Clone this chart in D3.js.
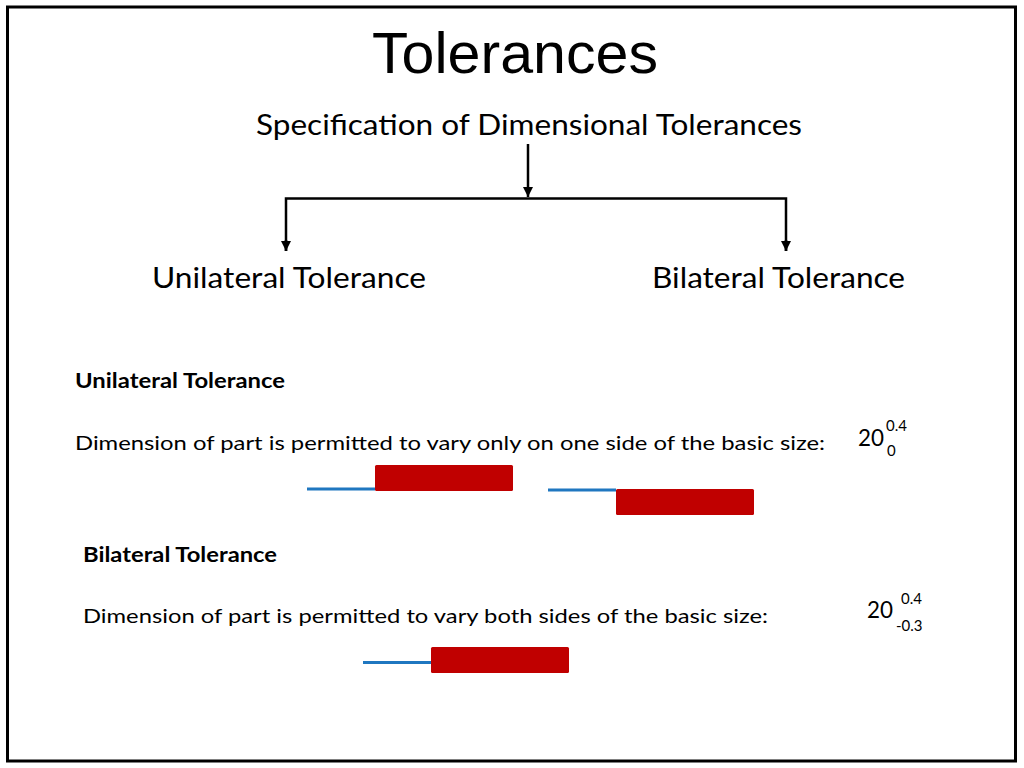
<!DOCTYPE html>
<html>
<head>
<meta charset="utf-8">
<script src="https://cdn.jsdelivr.net/npm/d3@7"></script>
<style>
  body { margin: 0; background: #fff; }
</style>
</head>
<body>
<div id="chart"></div>
<script>
// tree labels
var rootLabel = "Specification of Dimensional Tolerances";
var branchLabels = ["Unilateral Tolerance", "Bilateral Tolerance"];

// sections: heading, sentence, basic size, upper / lower deviation
var sectionTitles = ["Unilateral Tolerance", "Bilateral Tolerance"];
var sectionTexts = [
  "Dimension of part is permitted to vary only on one side of the basic size:",
  "Dimension of part is permitted to vary both sides of the basic size:"
];
var basicSizes = ["20", "20"];
var upperDev = ["0.4", "0.4"];
var lowerDev = ["0", "-0.3"];

// sketch bars: basic length (blue) and tolerance zone (red), in sketch units
var barNames = ["uni-up", "uni-down", "bi"];
var basicLen = [68, 68, 68];
var zoneLen = [138, 138, 138];
var zoneShift = [-1, 1, 0];   // zone above (-1), below (1) or across (0) the line

var svg = d3.select("#chart").append("svg")
  .attr("width", 1024)
  .attr("height", 768);

var sans = "Liberation Sans, Arial, sans-serif";
var body = "Lato, 'Open Sans', sans-serif";

svg.append("rect")
  .attr("x", 7.5).attr("y", 7)
  .attr("width", 1008).attr("height", 754)
  .attr("fill", "none")
  .attr("stroke", "#000")
  .attr("stroke-width", 3);

svg.append("text")
  .text("Tolerances")
  .attr("x", 372).attr("y", 73)
  .attr("textLength", 286).attr("lengthAdjust", "spacingAndGlyphs")
  .style("font-family", sans).style("font-size", 57);

svg.append("defs").append("marker")
  .attr("id", "arr")
  .attr("viewBox", "0 0 10 10")
  .attr("refX", 10).attr("refY", 5)
  .attr("markerWidth", 4).attr("markerHeight", 4)
  .attr("markerUnits", "strokeWidth")
  .attr("orient", "auto")
  .append("path").attr("d", "M0,0L10,5L0,10z").attr("fill", "#000");

// tree
var treeX = d3.scalePoint().domain(branchLabels).range([286, 786]);
var midX = 528;

svg.append("text")
  .text(rootLabel)
  .attr("x", 256).attr("y", 135)
  .attr("textLength", 546).attr("lengthAdjust", "spacingAndGlyphs")
  .style("font-family", body).style("font-size", 28);

svg.append("line")
  .attr("x1", midX).attr("y1", 144).attr("x2", midX).attr("y2", 197)
  .attr("stroke", "#000").attr("stroke-width", 2.5)
  .attr("marker-end", "url(#arr)");

svg.append("path")
  .attr("d", "M" + treeX(branchLabels[0]) + ",251V198.5H" + treeX(branchLabels[1]) + "V251")
  .attr("fill", "none").attr("stroke", "#000").attr("stroke-width", 2.5);

svg.selectAll(".branch").data(branchLabels).enter()
  .append("line")
  .attr("class", "branch")
  .attr("x1", function(d) { return treeX(d); })
  .attr("x2", function(d) { return treeX(d); })
  .attr("y1", 240).attr("y2", 251)
  .attr("stroke", "#000").attr("stroke-width", 2.5)
  .attr("marker-end", "url(#arr)");

var branchPos = [[152, 274], [652, 253]];
svg.selectAll(".blabel").data(branchLabels).enter()
  .append("text")
  .attr("class", "blabel")
  .text(function(d) { return d; })
  .attr("x", function(d, i) { return branchPos[i][0]; })
  .attr("y", 288)
  .attr("textLength", function(d, i) { return branchPos[i][1]; })
  .attr("lengthAdjust", "spacingAndGlyphs")
  .style("font-family", body).style("font-size", 28);

// sections
var secX = [75, 83];
var titleY = [388, 562], titleW = [210, 194];
var textY = [450, 623], textW = [750, 685];
var numX = [858, 867], numY = [446, 618];
var supX = [886, 901], supY = [431, 604];
var subX = [887, 896], subY = [456, 631];

var sec = svg.selectAll(".sec").data(sectionTitles).enter().append("g").attr("class", "sec");

sec.append("text")
  .text(function(d) { return d; })
  .attr("x", function(d, i) { return secX[i]; })
  .attr("y", function(d, i) { return titleY[i]; })
  .attr("textLength", function(d, i) { return titleW[i]; })
  .attr("lengthAdjust", "spacingAndGlyphs")
  .style("font-family", body).style("font-size", 20).style("font-weight", "bold");

sec.append("text")
  .text(function(d, i) { return sectionTexts[i]; })
  .attr("x", function(d, i) { return secX[i]; })
  .attr("y", function(d, i) { return textY[i]; })
  .attr("textLength", function(d, i) { return textW[i]; })
  .attr("lengthAdjust", "spacingAndGlyphs")
  .style("font-family", body).style("font-size", 20);

sec.append("text")
  .text(function(d, i) { return basicSizes[i]; })
  .attr("x", function(d, i) { return numX[i]; })
  .attr("y", function(d, i) { return numY[i]; })
  .attr("textLength", 26).attr("lengthAdjust", "spacingAndGlyphs")
  .style("font-family", body).style("font-size", 23);

sec.append("text")
  .text(function(d, i) { return upperDev[i]; })
  .attr("x", function(d, i) { return supX[i]; })
  .attr("y", function(d, i) { return supY[i]; })
  .style("font-family", body).style("font-size", 15);

sec.append("text")
  .text(function(d, i) { return lowerDev[i]; })
  .attr("x", function(d, i) { return subX[i]; })
  .attr("y", function(d, i) { return subY[i]; })
  .style("font-family", body).style("font-size", 15);

// bars
var u = d3.scaleLinear().domain([0, 1]).range([0, 1]);
var barOrigin = [[307, 489], [548, 490], [363, 662.5]];
var barH = 26;

var bars = svg.selectAll(".bar").data(barNames).enter()
  .append("g").attr("class", "bar")
  .attr("transform", function(d, i) { return "translate(" + barOrigin[i][0] + "," + barOrigin[i][1] + ")"; });

bars.append("line")
  .attr("x1", 0)
  .attr("x2", function(d, i) { return u(basicLen[i]); })
  .attr("y1", 0).attr("y2", 0)
  .attr("stroke", "#1f77c0").attr("stroke-width", 3);

bars.append("rect")
  .attr("x", function(d, i) { return u(basicLen[i]); })
  .attr("y", function(d, i) {
    if (zoneShift[i] < 0) return -barH + 2;
    if (zoneShift[i] > 0) return -1;
    return -15.5;
  })
  .attr("width", function(d, i) { return u(zoneLen[i]); })
  .attr("height", barH)
  .attr("rx", 1.5)
  .attr("fill", "#c00000");
</script>
</body>
</html>
